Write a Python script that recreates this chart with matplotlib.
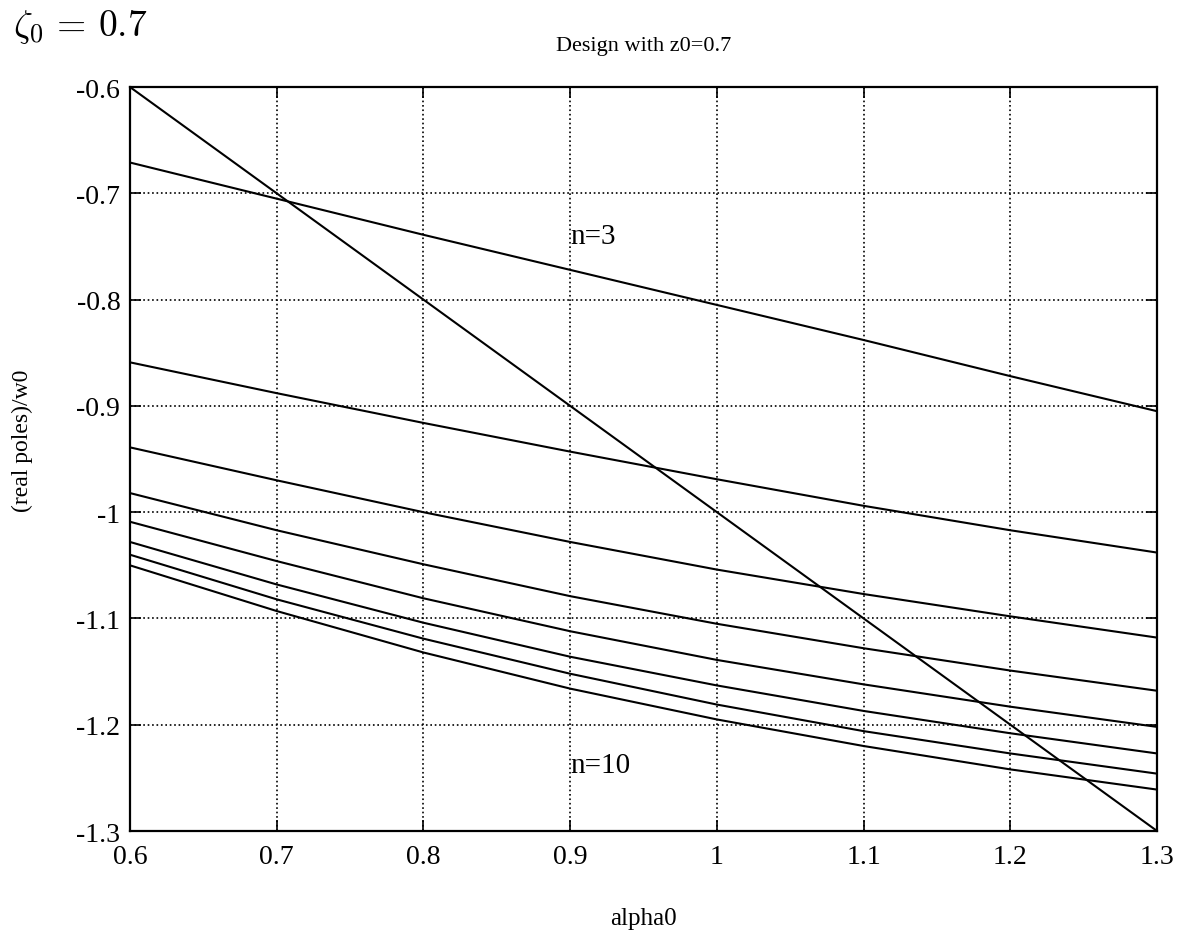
import matplotlib
matplotlib.use("Agg")
import matplotlib.pyplot as plt

plt.rcParams['font.family'] = ['Liberation Serif', 'DejaVu Serif']
plt.rcParams['mathtext.fontset'] = 'cm'

alpha0 = [0.6, 0.7, 0.8, 0.9, 1.0, 1.1, 1.2, 1.3]

n3 = [-0.671, -0.705, -0.739, -0.772, -0.805, -0.838, -0.872, -0.905]
n4 = [-0.859, -0.888, -0.916, -0.943, -0.969, -0.994, -1.017, -1.038]
n5 = [-0.939, -0.970, -1.000, -1.028, -1.054, -1.077, -1.098, -1.118]
n6 = [-0.982, -1.017, -1.049, -1.079, -1.105, -1.128, -1.149, -1.168]
n7 = [-1.009, -1.046, -1.081, -1.112, -1.139, -1.162, -1.183, -1.202]
n8 = [-1.028, -1.068, -1.104, -1.136, -1.163, -1.187, -1.208, -1.227]
n9 = [-1.040, -1.082, -1.119, -1.152, -1.181, -1.206, -1.227, -1.246]
n10 = [-1.050, -1.093, -1.132, -1.166, -1.195, -1.220, -1.242, -1.261]
diag = [-0.6, -0.7, -0.8, -0.9, -1.0, -1.1, -1.2, -1.3]

series = [n3, n4, n5, n6, n7, n8, n9, n10, diag]

xticks = [0.6, 0.7, 0.8, 0.9, 1.0, 1.1, 1.2, 1.3]
xticklabels = ['0.6', '0.7', '0.8', '0.9', '1', '1.1', '1.2', '1.3']
yticks = [-0.6, -0.7, -0.8, -0.9, -1.0, -1.1, -1.2, -1.3]
yticklabels = ['-0.6', '-0.7', '-0.8', '-0.9', '-1', '-1.1', '-1.2', '-1.3']

fig = plt.figure(figsize=(11.82, 9.37), dpi=100)
ax = fig.add_axes([0.110, 0.112, 0.869, 0.794])

for s in series:
    ax.plot(alpha0, s, color='black', linewidth=1.5)

ax.set_xlim(0.6, 1.3)
ax.set_ylim(-1.3, -0.6)
ax.set_xticks(xticks)
ax.set_xticklabels(xticklabels)
ax.set_yticks(yticks)
ax.set_yticklabels(yticklabels)
ax.tick_params(direction='in', top=True, right=True, length=8, width=1.2,
               labelsize=20, colors='black')
ax.tick_params(axis='x', pad=9)
ax.tick_params(axis='y', pad=7)
ax.grid(True, linestyle=':', color='black', linewidth=1.2)
for sp in ax.spines.values():
    sp.set_linewidth(1.6)

ax.set_title('Design with z0=0.7', fontsize=16, pad=27)
ax.set_xlabel('alpha0', fontsize=18)
ax.xaxis.set_label_coords(0.5, -0.102)
ax.set_ylabel('(real poles)/w0', fontsize=17)
ax.yaxis.set_label_coords(-0.094, 0.526)

ax.text(0.9, -0.74, 'n=3', fontsize=21, ha='left', va='center')
ax.text(0.9, -1.238, 'n=10', fontsize=21, ha='left', va='center')

fig.text(0.011, 0.971, r'$\zeta_0\,=\,0.7$', fontsize=27, ha='left', va='center')

fig.savefig('out.png', dpi=100)
